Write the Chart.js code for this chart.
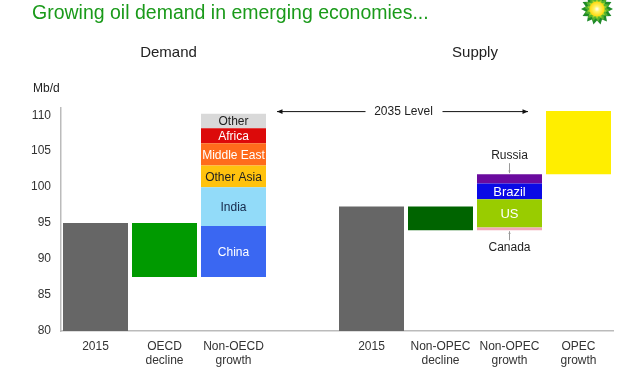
<!DOCTYPE html>
<html>
<head>
<meta charset="utf-8">
<script src="https://cdn.jsdelivr.net/npm/chart.js@4.4.1/dist/chart.umd.min.js"></script>
<style>
  html, body { margin: 0; padding: 0; background: #fff; }
  #wrap { position: relative; width: 640px; height: 385px; }
</style>
</head>
<body>
<div id="wrap"><canvas id="oilChart" width="640" height="385"></canvas></div>
<script>
// ── data (Mb/d) ──
const categories = ["2015", ["OECD", "decline"], ["Non-OECD", "growth"], "",
                    "2015", ["Non-OPEC", "decline"], ["Non-OPEC", "growth"], ["OPEC", "growth"]];
const yTicks = [80, 85, 90, 95, 100, 105, 110];

const demand2015 = [80, 95];
const oecdDecline = [87.5, 95];
const demandRegions = ["China", "India", "Other Asia", "Middle East", "Africa", "Other"];
const demandBounds = [87.5, 94.6, 100, 103, 106.1, 108.2, 110.2];

const supply2015 = [80, 97.3];
const nonOpecDecline = [94.0, 97.3];
const supplyRegions = ["Canada", "US", "Brazil", "Russia"];
const supplyBounds = [94.0, 94.4, 98.3, 100.5, 101.8];
const opecGrowth = [101.8, 110.6];
const level2035 = 110.5;

// colours
const regionColors = {
  "China": "#3a67f2", "India": "#92dbf9", "Other Asia": "#ffc20e", "Middle East": "#ff6c1c",
  "Africa": "#dc0a0a", "Other": "#d9d9d9",
  "Canada": "#f2a7b5", "US": "#99cc00", "Brazil": "#0a0ae6", "Russia": "#6a0a9e"
};
const regionText = {
  "China": "#ffffff", "India": "#14284a", "Other Asia": "#222222", "Middle East": "#ffffff",
  "Africa": "#ffffff", "Other": "#222222", "US": "#ffffff", "Brazil": "#ffffff"
};
const FONT = "'Liberation Sans', Arial, sans-serif";

function slot(idx, range) {
  return categories.map((_, i) => (i === idx ? range : null));
}

const datasets = [
  { label: "2015", data: categories.map((_, i) => (i === 0 ? demand2015 : i === 4 ? supply2015 : null)), backgroundColor: "#666666" },
  { label: "Decline", data: categories.map((_, i) => (i === 1 ? oecdDecline : i === 5 ? nonOpecDecline : null)),
    backgroundColor: ["#009a00", "#009a00", "#009a00", "#009a00", "#006400", "#006400", "#006400", "#006400"] },
];
demandRegions.forEach((r, k) => {
  datasets.push({ label: r, data: slot(2, [demandBounds[k], demandBounds[k + 1]]), backgroundColor: regionColors[r] });
});
supplyRegions.forEach((r, k) => {
  datasets.push({ label: r, data: slot(6, [supplyBounds[k], supplyBounds[k + 1]]), backgroundColor: regionColors[r] });
});
datasets.push({ label: "OPEC", data: slot(7, opecGrowth), backgroundColor: "#ffee00" });

// ── annotations drawn on top of the chart ──
function arrow(ctx, x1, y1, x2, y2, head) {
  ctx.beginPath(); ctx.moveTo(x1, y1); ctx.lineTo(x2, y2); ctx.stroke();
  const a = Math.atan2(y2 - y1, x2 - x1);
  ctx.beginPath();
  ctx.moveTo(x2, y2);
  ctx.lineTo(x2 - head * Math.cos(a - 0.4), y2 - head * Math.sin(a - 0.4));
  ctx.lineTo(x2 - head * Math.cos(a + 0.4), y2 - head * Math.sin(a + 0.4));
  ctx.closePath(); ctx.fill();
}

function drawLogo(ctx, cx, cy) {
  const rings = [[16, "#1f8a2a"], [13, "#58b42e"], [10, "#a8d42a"]];
  rings.forEach(([r, col], n) => {
    ctx.fillStyle = col;
    ctx.beginPath();
    const pts = 14;
    for (let i = 0; i < pts * 2; i++) {
      const rr = i % 2 ? r * 0.72 : r;
      const ang = (Math.PI / pts) * i + n * 0.11;
      ctx.lineTo(cx + rr * Math.cos(ang), cy + rr * Math.sin(ang));
    }
    ctx.closePath(); ctx.fill();
  });
  const g = ctx.createRadialGradient(cx, cy, 0, cx, cy, 8);
  g.addColorStop(0, "#ffffff"); g.addColorStop(0.35, "#fff36a"); g.addColorStop(1, "#ffd400");
  ctx.fillStyle = g;
  ctx.beginPath(); ctx.arc(cx, cy, 7.5, 0, Math.PI * 2); ctx.fill();
}

const annotations = {
  id: "annotations",
  afterDatasetsDraw(chart) {
    const { ctx, scales: { x, y } } = chart;
    const half = chart.getDatasetMeta(0).data[0].width / 2;
    ctx.save();
    ctx.textAlign = "center"; ctx.textBaseline = "middle";

    // labels inside stacked segments
    ctx.font = "12px " + FONT;
    demandRegions.forEach((r, k) => {
      ctx.fillStyle = regionText[r];
      ctx.fillText(r, x.getPixelForValue(2), (y.getPixelForValue(demandBounds[k]) + y.getPixelForValue(demandBounds[k + 1])) / 2 + 1);
    });
    ctx.font = "13px " + FONT;
    ["US", "Brazil"].forEach(r => {
      const k = supplyRegions.indexOf(r);
      ctx.fillStyle = regionText[r];
      ctx.fillText(r, x.getPixelForValue(6), (y.getPixelForValue(supplyBounds[k]) + y.getPixelForValue(supplyBounds[k + 1])) / 2 + 1);
    });

    // Russia / Canada callouts
    const cx6 = x.getPixelForValue(6);
    ctx.font = "12px " + FONT;
    ctx.fillStyle = "#222"; ctx.strokeStyle = "#999"; ctx.lineWidth = 1;
    const top = y.getPixelForValue(supplyBounds[4]);
    ctx.fillText("Russia", cx6, top - 18);
    ctx.fillStyle = "#999"; arrow(ctx, cx6, top - 11, cx6, top - 1, 3);
    const bot = y.getPixelForValue(supplyBounds[0]);
    ctx.fillStyle = "#222"; ctx.fillText("Canada", cx6, bot + 17);
    ctx.fillStyle = "#999"; arrow(ctx, cx6, bot + 10, cx6, bot + 1, 3);

    // 2035 level arrows
    const ly = y.getPixelForValue(level2035);
    const xl = x.getPixelForValue(2) + half + 11;
    const xr = x.getPixelForValue(7) - half - 18;
    const mid = (xl + xr) / 2;
    ctx.strokeStyle = "#111"; ctx.fillStyle = "#111"; ctx.lineWidth = 1;
    arrow(ctx, mid - 37, ly, xl, ly, 6);
    arrow(ctx, mid + 40, ly, xr, ly, 6);
    ctx.font = "12px " + FONT; ctx.fillStyle = "#222";
    ctx.fillText("2035 Level", mid + 1, ly);

    // headings and unit
    ctx.font = "15px " + FONT; ctx.fillStyle = "#222";
    ctx.fillText("Demand", x.getPixelForValue(1) + 4, 53);
    ctx.fillText("Supply", (x.getPixelForValue(5) + x.getPixelForValue(6)) / 2, 53);
    ctx.font = "12px " + FONT; ctx.textAlign = "left";
    ctx.fillText("Mb/d", 33, 89);

    // title and logo
    ctx.font = "19.5px " + FONT; ctx.fillStyle = "#1a9a1a";
    ctx.textBaseline = "alphabetic";
    ctx.fillText("Growing oil demand in emerging economies...", 32, 19);
    drawLogo(ctx, 597, 9);
    ctx.restore();
  }
};

new Chart(document.getElementById("oilChart"), {
  type: "bar",
  data: { labels: categories, datasets },
  options: {
    responsive: false,
    animation: false,
    layout: { padding: { top: 108, right: 27, left: 0, bottom: 0 } },
    barPercentage: 0.942,
    categoryPercentage: 1,
    plugins: { legend: { display: false }, tooltip: { enabled: false } },
    scales: {
      x: {
        stacked: true,
        grid: { display: false, drawTicks: false },
        border: { display: true, color: "#bbbbbb", width: 1.5 },
        ticks: { color: "#333", font: { family: FONT, size: 12 }, padding: 8, maxRotation: 0, autoSkip: false },
        afterFit(scale) { scale.height = 54; }
      },
      y: {
        stacked: false,
        min: 80, max: 111,
        grid: { display: false, drawTicks: false },
        border: { display: true, color: "#bbbbbb", width: 1.5 },
        ticks: { color: "#333", font: { family: FONT, size: 12 }, padding: 10 },
        afterBuildTicks(scale) { scale.ticks = yTicks.map(v => ({ value: v })); },
        afterFit(scale) { scale.width = 61; }
      }
    }
  },
  plugins: [annotations]
});
</script>
</body>
</html>
